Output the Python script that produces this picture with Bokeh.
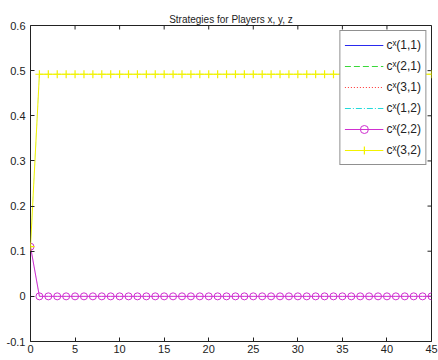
import math
from bokeh.plotting import figure
from bokeh.models import Range1d, FixedTicker, LinearAxis, Legend, LegendItem, Title
from bokeh.embed import file_html
from bokeh.resources import INLINE

title_text = "Strategies for Players x, y, z"
steps = [0, 1, 2, 3, 4, 5, 6, 7, 8, 9, 10, 11, 12, 13, 14, 15, 16, 17, 18, 19, 20, 21, 22,
         23, 24, 25, 26, 27, 28, 29, 30, 31, 32, 33, 34, 35, 36, 37, 38, 39, 40, 41, 42, 43, 44, 45]

c22 = [0.11, 0.0, 0.0, 0.0, 0.0, 0.0, 0.0, 0.0, 0.0, 0.0, 0.0, 0.0, 0.0, 0.0, 0.0, 0.0,
       0.0, 0.0, 0.0, 0.0, 0.0, 0.0, 0.0, 0.0, 0.0, 0.0, 0.0, 0.0, 0.0, 0.0, 0.0, 0.0,
       0.0, 0.0, 0.0, 0.0, 0.0, 0.0, 0.0, 0.0, 0.0, 0.0, 0.0, 0.0, 0.0, 0.0]
c32 = [0.11, 0.492, 0.492, 0.492, 0.492, 0.492, 0.492, 0.492, 0.492, 0.492, 0.492, 0.492,
       0.492, 0.492, 0.492, 0.492, 0.492, 0.492, 0.492, 0.492, 0.492, 0.492, 0.492, 0.492,
       0.492, 0.492, 0.492, 0.492, 0.492, 0.492, 0.492, 0.492, 0.492, 0.492, 0.492, 0.492,
       0.492, 0.492, 0.492, 0.492, 0.492, 0.492, 0.492, 0.492, 0.492, 0.492]
# series hidden beneath the visible ones in the reference
c11 = list(c22)
c21 = list(c32)
c31 = list(c22)
c12 = list(c32)

labels = ["c\u02e3(1,1)", "c\u02e3(2,1)", "c\u02e3(3,1)", "c\u02e3(1,2)", "c\u02e3(2,2)", "c\u02e3(3,2)"]

x_ticks = [0, 5, 10, 15, 20, 25, 30, 35, 40, 45]
y_ticks = [-0.1, 0.0, 0.1, 0.2, 0.3, 0.4, 0.5, 0.6]
y_tick_labels = ["-0.1", "0", "0.1", "0.2", "0.3", "0.4", "0.5", "0.6"]
x_lim = (0, 45)
y_lim = (-0.1, 0.6)

FONT = "Liberation Sans"
TXT = "#222222"

p = figure(width=438, height=360, output_backend="svg", toolbar_location=None,
           x_range=Range1d(*x_lim), y_range=Range1d(*y_lim),
           min_border_left=30, min_border_right=7, min_border_top=25, min_border_bottom=19,
           x_axis_location=None, y_axis_location=None)
p.grid.visible = False
p.outline_line_color = "#222222"
p.outline_line_width = 1
p.background_fill_color = "white"
p.border_fill_color = "white"
# an off-screen range for the legend-key copies of the covered series
p.extra_y_ranges = {"keys": Range1d(10, 11)}

t = Title(text=title_text, align="center", text_font=FONT, text_font_size="10px",
          text_font_style="normal", text_color=TXT, standoff=2)
p.add_layout(t, "above")

def make_axis(ticks, standoff):
    ax = LinearAxis(ticker=FixedTicker(ticks=ticks))
    ax.major_tick_in = 4
    ax.major_tick_out = 0
    ax.minor_tick_in = 0
    ax.minor_tick_out = 0
    ax.major_tick_line_color = "#222222"
    ax.axis_line_color = None
    ax.major_label_text_font = FONT
    ax.major_label_text_font_size = "11px"
    ax.major_label_text_color = TXT
    ax.major_label_standoff = standoff
    return ax

bx = make_axis(x_ticks, 3)
ly = make_axis(y_ticks, 5)
ly.major_label_overrides = {v: s for v, s in zip(y_ticks, y_tick_labels)}
p.add_layout(bx, "below")
p.add_layout(ly, "left")

# inward ticks on the top and right edges of the box (4px long)
p.ray(x=x_ticks, y=[y_lim[1]] * len(x_ticks), length=4, length_units="screen",
      angle=-math.pi / 2, line_color="#222222", line_width=1)
p.ray(x=[x_lim[1]] * len(y_ticks), y=y_ticks, length=4, length_units="screen",
      angle=math.pi, line_color="#222222", line_width=1)

styles = [
    dict(line_color="#2a2aee", line_dash="solid"),
    dict(line_color="#3ad83a", line_dash="6 3"),
    dict(line_color="#ff3030", line_dash="1 2"),
    dict(line_color="#22dada", line_dash="6 2 1 2"),
    dict(line_color="#d030d0", line_dash="solid"),
    dict(line_color="#f2f200", line_dash="solid"),
]

# covered series: drawn faintly under the visible ones
for ys, st in zip([c11, c21, c31, c12], styles[:4]):
    p.line(steps, ys, line_width=1, line_alpha=0.1, **st)
# full-strength copies for the legend keys, on the off-screen range
keys = [p.line(steps, ys, line_width=1, y_range_name="keys", **st)
        for ys, st in zip([c11, c21, c31, c12], styles[:4])]

r22 = p.line(steps, c22, line_width=1, **styles[4])
m22 = p.scatter(steps, c22, marker="circle", size=7, fill_color=None,
                line_color="#d030d0", line_width=1)
r32 = p.line(steps, c32, line_width=1, **styles[5])
m32 = p.scatter(steps, c32, marker="cross", size=8, line_color="#f2f200", line_width=1.2)

legend = Legend(items=[
    LegendItem(label=labels[0], renderers=[keys[0]]),
    LegendItem(label=labels[1], renderers=[keys[1]]),
    LegendItem(label=labels[2], renderers=[keys[2]]),
    LegendItem(label=labels[3], renderers=[keys[3]]),
    LegendItem(label=labels[4], renderers=[r22, m22]),
    LegendItem(label=labels[5], renderers=[r32, m32]),
], location="top_right")
legend.margin = 5
legend.padding = 4
legend.spacing = 1
legend.glyph_width = 39
legend.glyph_height = 20
legend.label_height = 20
legend.label_standoff = 3
legend.label_text_font = FONT
legend.label_text_font_size = "12px"
legend.label_text_color = TXT
legend.border_line_color = "#222222"
legend.border_line_width = 1
legend.background_fill_color = "white"
legend.background_fill_alpha = 1
p.add_layout(legend, "center")

open("out.html", "w").write(file_html(p, INLINE))
